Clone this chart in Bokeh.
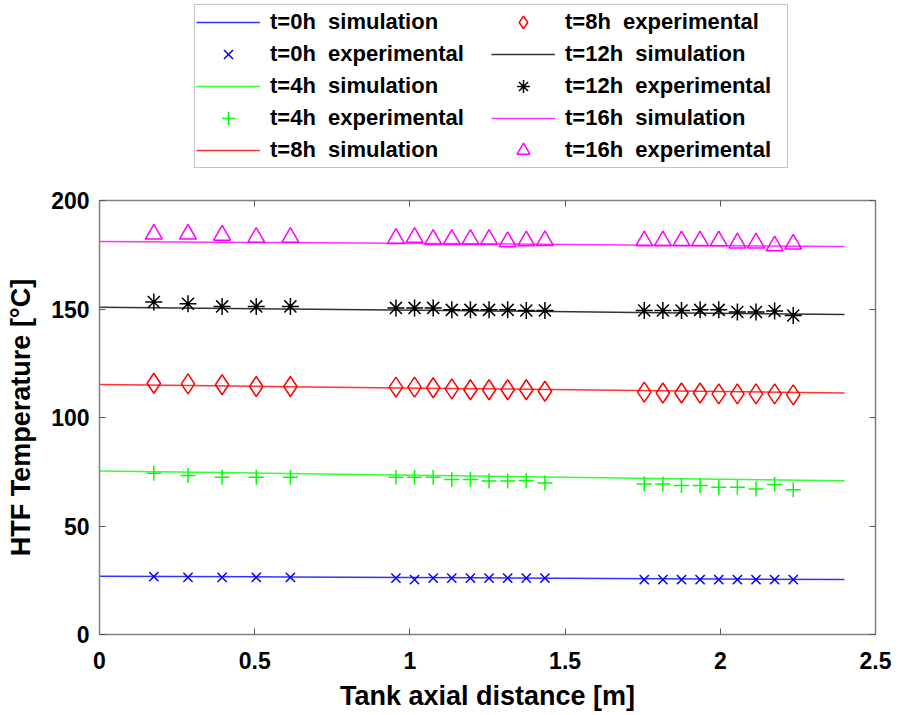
from bokeh.plotting import figure
from bokeh.layouts import column
from bokeh.models import Legend, LegendItem, LinearAxis, Range1d, FixedTicker, CustomJSTickFormatter
from bokeh.embed import file_html
from bokeh.resources import INLINE

# ---------------- data ----------------
x_ticks = [0, 0.5, 1, 1.5, 2, 2.5]
x_tick_labels = ["0", "0.5", "1", "1.5", "2", "2.5"]
y_ticks = [0, 50, 100, 150, 200]
y_tick_labels = ["0", "50", "100", "150", "200"]

x_exp = [0.175, 0.285, 0.395, 0.505, 0.615,
         0.955, 1.015, 1.075, 1.135, 1.195, 1.255, 1.315, 1.375, 1.435,
         1.755, 1.815, 1.875, 1.935, 1.995, 2.055, 2.115, 2.175, 2.235]
x_sim = [0.0, 0.6, 1.2, 1.8, 2.4]

sim_0h = [26.9, 26.5, 26.1, 25.7, 25.3]
sim_4h = [75.3, 74.2, 73.0, 71.9, 70.8]
sim_8h = [115.2, 114.2, 113.3, 112.3, 111.3]
sim_12h = [150.8, 150.0, 149.2, 148.3, 147.5]
sim_16h = [181.1, 180.6, 180.1, 179.4, 178.8]

exp_0h = [26.7, 26.3, 26.3, 26.3, 26.3,
          26.0, 25.3, 26.0, 26.0, 26.0, 26.0, 26.0, 26.0, 26.0,
          25.3, 25.3, 25.3, 25.3, 25.3, 25.3, 25.3, 25.3, 25.3]
exp_4h = [74.3, 73.3, 72.5, 72.5, 72.5,
          72.5, 72.5, 72.5, 71.4, 71.4, 70.7, 70.7, 71.0, 69.8,
          69.4, 69.4, 68.7, 68.7, 67.9, 67.9, 67.1, 69.1, 66.7]
exp_8h = [115.8, 115.5, 115.1, 114.3, 114.3,
          114.0, 114.0, 113.7, 113.2, 112.8, 112.8, 112.8, 112.8, 112.1,
          111.7, 111.3, 111.3, 111.3, 110.9, 110.9, 110.9, 110.9, 110.4]
exp_12h = [153.2, 152.4, 151.2, 151.2, 151.2,
           150.5, 150.5, 150.5, 149.6, 149.6, 149.6, 149.6, 149.3, 149.3,
           149.3, 149.3, 149.3, 149.6, 149.6, 148.6, 148.6, 149.1, 147.0]
exp_16h = [184.5, 184.5, 184.0, 183.0, 183.0,
           182.5, 183.0, 182.0, 182.0, 182.0, 182.0, 181.0, 181.4, 181.5,
           181.4, 181.4, 181.4, 181.4, 181.4, 180.4, 180.4, 179.1, 179.9]

times = ["t=0h", "t=4h", "t=8h", "t=12h", "t=16h"]
colors = ["#0000ff", "#00ff00", "#ff0000", "#000000", "#ff00ff"]
markers = ["x", "cross", "diamond", "asterisk", "triangle"]
marker_sizes = [13, 15, 20, 17, 17]
sims = [sim_0h, sim_4h, sim_8h, sim_12h, sim_16h]
exps = [exp_0h, exp_4h, exp_8h, exp_12h, exp_16h]

FONT = "Liberation Sans"
W = 900
LEG_H = 170
BL, BR = 99, 25

# ---------------- main plot ----------------
p = figure(width=W, height=714 - LEG_H, output_backend="svg", toolbar_location=None,
           x_range=Range1d(0, 2.5), y_range=Range1d(0, 200),
           min_border_left=BL, min_border_right=BR, min_border_top=30, min_border_bottom=80)
p.grid.visible = False
p.outline_line_color = None
p.background_fill_color = "white"
p.border_fill_color = "white"

# ---------------- legend holder (same series, outside its visible range) ----------------
pl = figure(width=W, height=LEG_H, output_backend="svg", toolbar_location=None,
            x_range=Range1d(10, 11), y_range=Range1d(-2, -1),
            min_border_left=BL, min_border_right=BR, min_border_top=0, min_border_bottom=0)
pl.axis.visible = False
pl.grid.visible = False
pl.outline_line_color = None
pl.background_fill_color = "white"
pl.border_fill_color = "white"

items = []
for t, c, m, ms, ys, ye in zip(times, colors, markers, marker_sizes, sims, exps):
    p.line(x_sim, ys, line_color=c, line_width=1.5, line_alpha=0.8)
    p.scatter(x_exp, ye, marker=m, size=ms, line_color=c, fill_color=None, line_width=1.5)
    l1 = pl.line(x_sim, ys, line_color=c, line_width=1.5, line_alpha=0.8)
    l2 = pl.scatter(x_exp, ye, marker=m, size=ms, line_color=c, fill_color=None, line_width=1.5)
    items.append(LegendItem(label=t + "  simulation", renderers=[l1]))
    items.append(LegendItem(label=t + "  experimental", renderers=[l2]))

# axes
def style_axis(ax):
    ax.axis_line_color = "#808080"
    ax.axis_line_width = 1.5
    ax.major_tick_line_color = "#555555"
    ax.major_tick_line_width = 1
    ax.major_tick_in = 6
    ax.major_tick_out = 0
    ax.minor_tick_in = 0
    ax.minor_tick_out = 0
    ax.major_label_text_font = FONT
    ax.major_label_text_font_style = "bold"
    ax.major_label_text_font_size = "23px"
    ax.major_label_text_color = "black"
    ax.axis_label_text_font = FONT
    ax.axis_label_text_font_style = "bold"
    ax.axis_label_text_color = "black"

xa = p.xaxis[0]
xa.ticker = FixedTicker(ticks=x_ticks)
xa.major_label_overrides = dict(zip(x_ticks, x_tick_labels))
xa.axis_label = "Tank axial distance [m]"
style_axis(xa)
xa.axis_label_text_font_size = "27px"
xa.major_label_standoff = 17
xa.axis_label_standoff = 9

ya = p.yaxis[0]
ya.ticker = FixedTicker(ticks=y_ticks)
ya.major_label_overrides = dict(zip(y_ticks, y_tick_labels))
ya.axis_label = "HTF Temperature [°C]"
style_axis(ya)
ya.axis_label_text_font_size = "27px"
ya.major_label_standoff = 10
ya.axis_label_standoff = 12

empty = CustomJSTickFormatter(code="return ''")
top = LinearAxis(ticker=FixedTicker(ticks=x_ticks), formatter=empty)
right = LinearAxis(ticker=FixedTicker(ticks=y_ticks), formatter=empty)
style_axis(top)
style_axis(right)
top.major_label_standoff = 0
right.major_label_standoff = 0
p.add_layout(top, "above")
p.add_layout(right, "right")

legend = Legend(items=items, ncols=2, location=(95, 2))
legend.label_text_font = FONT
legend.label_text_font_style = "bold"
legend.label_text_font_size = "22px"
legend.label_text_color = "black"
legend.glyph_width = 64
legend.glyph_height = 32
legend.label_height = 20
legend.label_width = 221
legend.label_standoff = 10
legend.spacing = 0
legend.padding = 1
legend.margin = 0
legend.border_line_color = "#8a8a8a"
legend.border_line_width = 1.5
legend.background_fill_color = "white"
legend.background_fill_alpha = 1
pl.add_layout(legend)

layout = column(pl, p, spacing=0)
open("out.html", "w").write(file_html(layout, INLINE))
